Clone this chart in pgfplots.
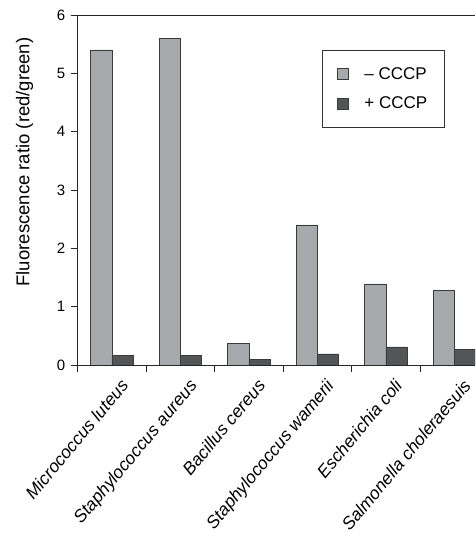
\documentclass[border=0pt]{standalone}
\usepackage{fontspec}
\setmainfont{Liberation Sans}
\usepackage{pgfplots}
\pgfplotsset{compat=1.18}
\definecolor{lightbar}{HTML}{A8A9AD}
\definecolor{darkbar}{HTML}{545557}
\definecolor{edgec}{HTML}{3A3A3A}
\begin{document}
\begin{tikzpicture}
\begin{axis}[
  name=ax,
  scale only axis,
  width=397.3bp, height=350bp,
  xmin=-0.5, xmax=5.3,
  ymin=0, ymax=6,
  ytick={0,1,...,6},
  axis x line=box, axis y line=left,
  axis line style={-, line width=0.8bp, black!85},
  tick pos=left,
  tick align=outside,
  major tick length=7bp,
  tick style={line width=0.8bp, black!85},
  xtick={-0.5,0.5,...,4.5},
  xticklabels={},
  extra x ticks={0,1,2,3,4,5},
  extra x tick labels={Micrococcus luteus, Staphylococcus aureus, Bacillus cereus, Staphylococcus wamerii, Escherichia coli, Salmonella choleraesuis},
  extra x tick style={major tick length=0pt,
    tick label style={rotate=50, anchor=north east, font=\fontsize{17.5bp}{20bp}\selectfont\itshape, inner sep=0bp, xshift=-5bp, yshift=-14bp}},
  /pgf/number format/assume math mode=true,
  yticklabel style={font=\fontsize{15bp}{17bp}\selectfont, xshift=-2bp},
  ylabel={Fluorescence ratio (red/green)},
  ylabel style={font=\fontsize{18.5bp}{20bp}\selectfont, at={([xshift=-41bp]rel axis cs:0,0.58)}, anchor=south},
  ybar=0pt,
  bar width=21.3bp,
  legend style={at={(rel axis cs:0.614,0.9)}, anchor=north west, draw=black!80, line width=0.8bp,
    font=\fontsize{17bp}{20bp}\selectfont, inner xsep=15bp, inner ysep=15bp, row sep=12bp},
  legend cell align=left,
  legend image code/.code={\draw[#1, line width=0.8bp] (0bp,-5.5bp) rectangle (11bp,5.5bp); \path[draw=none, fill=none] (0bp,0bp) -- (25bp,0bp);},
]
\addplot[fill=lightbar, draw=edgec, line width=0.8bp] coordinates {(0,5.40) (1,5.60) (2,0.37) (3,2.40) (4,1.39) (5,1.28)};
\addplot[fill=darkbar, draw=edgec, line width=0.8bp] coordinates {(0,0.17) (1,0.17) (2,0.10) (3,0.19) (4,0.31) (5,0.26)};
\legend{-- CCCP\hspace{4bp}, + CCCP\hspace{4bp}}
\end{axis}
\pgfresetboundingbox
\path[use as bounding box] ([xshift=-77.7bp,yshift=-174bp]ax.south west) rectangle ([yshift=15bp]ax.north east);
\end{tikzpicture}
\end{document}
